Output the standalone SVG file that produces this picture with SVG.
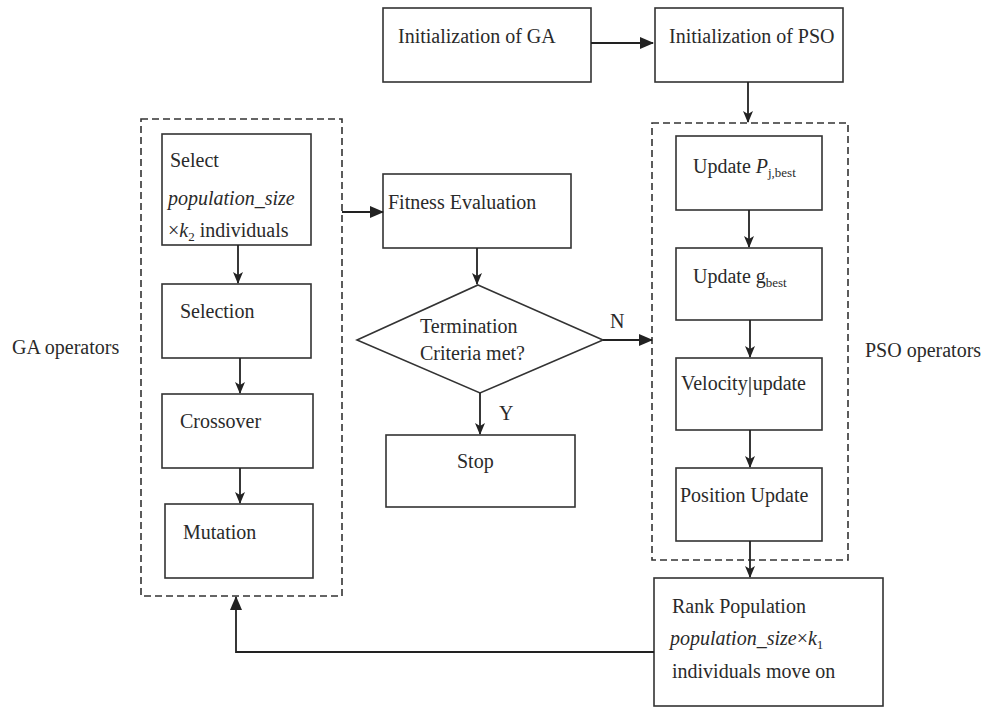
<svg xmlns="http://www.w3.org/2000/svg" width="990" height="709" viewBox="0 0 990 709">
<defs>
<marker id="ah" markerWidth="12" markerHeight="10" refX="11" refY="5" orient="auto" markerUnits="userSpaceOnUse">
<path d="M0,0 L12,5 L0,10 L3,5 Z" fill="#222"/>
</marker>
<marker id="ahb" markerWidth="14" markerHeight="12" refX="13" refY="6" orient="auto" markerUnits="userSpaceOnUse">
<path d="M0,0 L14,6 L0,12 Z" fill="#222"/>
</marker>
</defs>
<style>
rect.box{fill:#fff;stroke:#333;stroke-width:1.6}
rect.grp{fill:none;stroke:#333;stroke-width:1.6;stroke-dasharray:7,4}
text{font-family:"Liberation Serif","Times New Roman",serif;font-size:20px;fill:#2a2a2a}
.c{fill:none;stroke:#222;stroke-width:1.8}
.sub{font-size:13px}
</style>
<rect width="990" height="709" fill="#fff"/>

<g id="ga-group">
<rect class="grp" x="141" y="119" width="201" height="477"/>
<text x="12" y="354">GA operators</text>
</g>
<g id="pso-group">
<rect class="grp" x="652" y="123" width="196" height="437"/>
<text x="865" y="357">PSO operators</text>
</g>

<g id="init-ga">
<rect class="box" x="383" y="8" width="208" height="74"/>
<text x="398" y="43">Initialization of GA</text>
</g>
<g id="init-pso">
<rect class="box" x="655" y="8" width="188" height="74"/>
<text x="669" y="43">Initialization of PSO</text>
</g>

<g id="select">
<rect class="box" x="162" y="134" width="149" height="111"/>
<text x="170" y="167">Select</text>
<text x="168" y="205" font-style="italic">population_size</text>
<text x="168" y="237">×<tspan font-style="italic">k</tspan><tspan class="sub" dy="4">2</tspan><tspan dy="-4"> individuals</tspan></text>
</g>
<g id="selection">
<rect class="box" x="162" y="284" width="149" height="74"/>
<text x="180" y="318">Selection</text>
</g>
<g id="crossover">
<rect class="box" x="162" y="394" width="151" height="74"/>
<text x="180" y="428">Crossover</text>
</g>
<g id="mutation">
<rect class="box" x="165" y="504" width="148" height="74"/>
<text x="183" y="539">Mutation</text>
</g>

<g id="fitness">
<rect class="box" x="383" y="174" width="188" height="74"/>
<text x="388" y="209">Fitness Evaluation</text>
</g>
<g id="termination">
<polygon points="478,285 603,340 480,393 357,340" fill="#fff" stroke="#333" stroke-width="1.6"/>
<text x="420" y="333">Termination</text>
<text x="420" y="360">Criteria met?</text>
</g>
<g id="stop">
<rect class="box" x="386" y="435" width="189" height="72"/>
<text x="457" y="468">Stop</text>
</g>

<g id="update-pbest">
<rect class="box" x="676" y="136" width="146" height="74"/>
<text x="693" y="173">Update <tspan font-style="italic">P</tspan><tspan class="sub" dy="4">j,best</tspan></text>
</g>
<g id="update-gbest">
<rect class="box" x="676" y="248" width="146" height="72"/>
<text x="693" y="283">Update g<tspan class="sub" dy="4">best</tspan></text>
</g>
<g id="velocity">
<rect class="box" x="676" y="358" width="146" height="72"/>
<text x="681" y="390">Velocity update</text>
<line x1="750" y1="377" x2="750" y2="397" stroke="#222" stroke-width="1.2"/>
</g>
<g id="position">
<rect class="box" x="676" y="468" width="146" height="73"/>
<text x="680" y="502">Position Update</text>
</g>
<g id="rank">
<rect class="box" x="654" y="578" width="229" height="128"/>
<text x="672" y="613">Rank Population</text>
<text x="670" y="645"><tspan font-style="italic">population_size</tspan>×<tspan font-style="italic">k</tspan><tspan class="sub" dy="4">1</tspan></text>
<text x="672" y="678">individuals move on</text>
</g>

<g id="connectors">
<line class="c" x1="591" y1="43" x2="653" y2="43" marker-end="url(#ahb)"/>
<line class="c" x1="748" y1="82" x2="748" y2="122" marker-end="url(#ah)"/>
<line class="c" x1="749" y1="210" x2="749" y2="247" marker-end="url(#ah)"/>
<line class="c" x1="750" y1="320" x2="750" y2="357" marker-end="url(#ah)"/>
<line class="c" x1="750" y1="430" x2="750" y2="467" marker-end="url(#ah)"/>
<line class="c" x1="750" y1="541" x2="750" y2="577" marker-end="url(#ah)"/>
<polyline class="c" points="654,652 236,652 236,597" marker-end="url(#ahb)"/>
<line class="c" x1="238" y1="245" x2="238" y2="283" marker-end="url(#ah)"/>
<line class="c" x1="240" y1="358" x2="240" y2="393" marker-end="url(#ah)"/>
<line class="c" x1="240" y1="468" x2="240" y2="503" marker-end="url(#ah)"/>
<line class="c" x1="342" y1="212" x2="383" y2="212" marker-end="url(#ahb)"/>
<line class="c" x1="477" y1="248" x2="477" y2="284" marker-end="url(#ah)"/>
<line class="c" x1="603" y1="340" x2="652" y2="340" marker-end="url(#ahb)"/>
<text x="610" y="328">N</text>
<line class="c" x1="480" y1="393" x2="480" y2="434" marker-end="url(#ah)"/>
<text x="499" y="420">Y</text>
</g>
</svg>
